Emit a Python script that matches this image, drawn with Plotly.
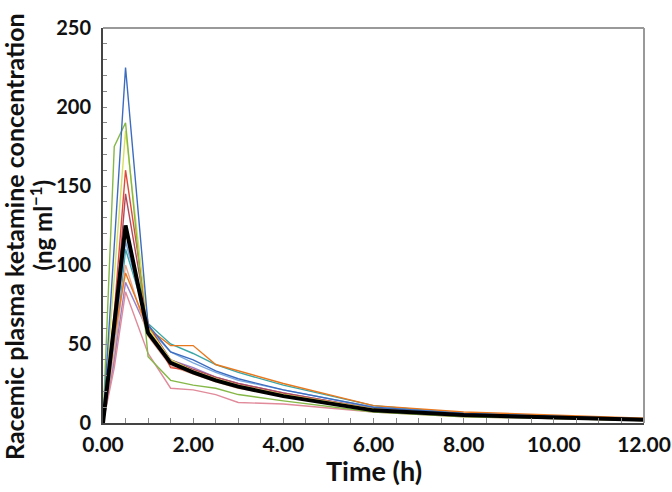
import plotly.graph_objects as go

times = [0, 0.25, 0.5, 1, 1.5, 2, 2.5, 3, 4, 6, 8, 12]

subj_blue = [0, 110, 225, 62, 45, 40, 33, 28, 21, 10, 6, 2.5]
subj_green = [0, 175, 190, 42, 27, 24, 22, 18, 14, 7, 4, 1.5]
subj_yellow = [0, 90, 185, 60, 40, 33, 28, 24, 18, 9, 5, 2]
subj_red = [0, 70, 160, 63, 35, 33, 28, 24, 18, 9, 5, 2]
subj_maroon = [0, 60, 145, 62, 40, 34, 29, 25, 19, 9, 5, 2]
subj_orange = [0, 55, 95, 60, 49, 49, 37, 33, 25, 11, 7, 3]
subj_teal = [0, 40, 110, 63, 50, 44, 37, 32, 24, 11, 6, 2.5]
subj_lightblue = [0, 50, 115, 60, 45, 38, 32, 27, 21, 10, 6, 2.5]
subj_purple = [0, 40, 89, 58, 40, 35, 29, 25, 19, 9, 5, 2]
subj_pink = [0, 35, 83, 44, 22, 21, 18, 13, 12, 7, 4, 1.5]
subj_salmon = [0, 45, 100, 55, 36, 31, 26, 22, 17, 8, 5, 2]
mean_conc = [0, 62, 125, 57, 38, 32, 27, 23, 17, 8, 5, 2]

subjects = [
    (subj_teal, "#3aa6a6"),
    (subj_lightblue, "#7aa8e0"),
    (subj_purple, "#9a80c8"),
    (subj_salmon, "#e8a890"),
    (subj_pink, "#e08a9a"),
    (subj_maroon, "#b04a5a"),
    (subj_red, "#e04a3a"),
    (subj_orange, "#e8781e"),
    (subj_yellow, "#d8e060"),
    (subj_green, "#86b848"),
    (subj_blue, "#3c6cc0"),
]

fig = go.Figure()
for vals, col in subjects:
    fig.add_trace(go.Scatter(x=times, y=vals, mode="lines",
                             line=dict(color=col, width=1.4), showlegend=False))
fig.add_trace(go.Scatter(x=times, y=mean_conc, mode="lines",
                         line=dict(color="#000000", width=4), showlegend=False))

FONT = "Lato, 'Open Sans', sans-serif"

fig.update_layout(
    width=672, height=492,
    margin=dict(l=103, r=28, t=28, b=69),
    paper_bgcolor="white", plot_bgcolor="white",
    font=dict(family=FONT),
    xaxis=dict(range=[0, 12], dtick=2, tickformat=".2f", showgrid=False, zeroline=False,
               automargin=False,
               showline=True, linecolor="#444", linewidth=2,
               ticks="inside", ticklen=5, tickcolor="#888", tickwidth=1,
               minor=dict(dtick=0.5, ticks="inside", ticklen=5, tickcolor="#888", tickwidth=1),
               tickfont=dict(family=FONT, size=21, color="#111", weight="bold"),
               ticklabelstandoff=2),
    yaxis=dict(range=[0, 250], dtick=50, showgrid=False, zeroline=False,
               automargin=False,
               showline=True, linecolor="#444", linewidth=2,
               ticks="inside", ticklen=4, tickcolor="#888", tickwidth=1,
               minor=dict(dtick=10, ticks="inside", ticklen=4, tickcolor="#888", tickwidth=1),
               tickfont=dict(family=FONT, size=20, color="#111", weight="bold"),
               ticklabelstandoff=6),
    shapes=[
        dict(type="line", xref="paper", yref="paper", x0=0, x1=1, y0=1, y1=1,
             line=dict(color="#999", width=2)),
        dict(type="line", xref="paper", yref="paper", x0=1, x1=1, y0=0, y1=1,
             line=dict(color="#999", width=2)),
    ],
    annotations=[
        dict(text="<b>Racemic plasma ketamine concentration</b>",
             xref="paper", yref="paper", x=0, y=0.471, xanchor="center", yanchor="middle",
             xshift=-89, textangle=-90, showarrow=False,
             font=dict(family=FONT, size=25, color="#111")),
        dict(text="<b>(ng ml<sup>−1</sup>)</b>",
             xref="paper", yref="paper", x=0, y=0.50, xanchor="center", yanchor="middle",
             xshift=-63, textangle=-90, showarrow=False,
             font=dict(family=FONT, size=24, color="#111")),
        dict(text="<b>Time (h)</b>",
             xref="paper", yref="paper", x=0.5, y=-0.119, xanchor="center", yanchor="middle",
             showarrow=False,
             font=dict(family=FONT, size=27, color="#111")),
    ],
)

fig.write_html("out.html", config={"displayModeBar": False},
               post_script="document.body.style.margin='0';")
